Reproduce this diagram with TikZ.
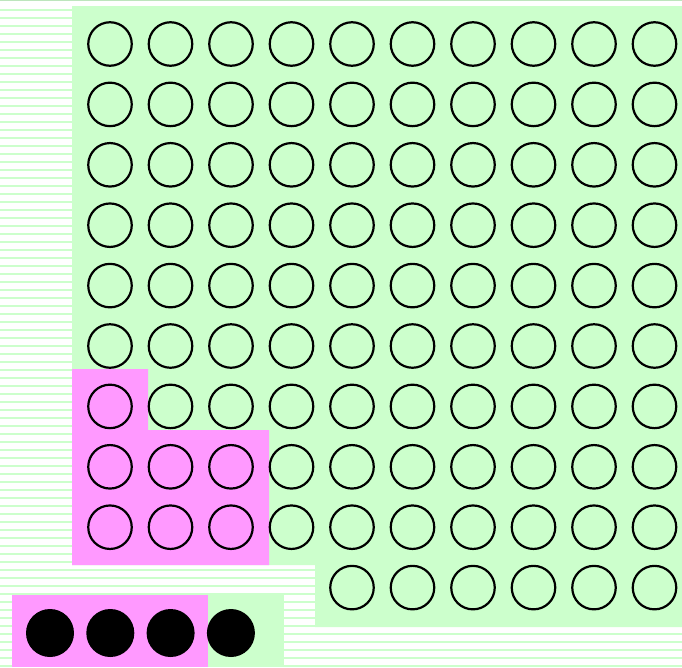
\documentclass[tikz,border=0pt]{standalone}
\definecolor{lgreen}{HTML}{CCFFCC}
\definecolor{lmag}{HTML}{FF99FF}
\tikzset{
  ring/.style={circle, draw=black, line width=2.2pt, minimum size=43.5pt, inner sep=0pt},
  dot/.style={circle, fill=black, minimum size=48pt, inner sep=0pt},
  stripe/.style={fill=lgreen, draw=none}
}
\begin{document}
\begin{tikzpicture}[x=1pt,y=-1pt]
\useasboundingbox (0,0) rectangle (682,667);
\fill[white] (0,0) rectangle (682,667);
\fill[lgreen!80!gray] (0,0) rectangle (682,1.2);
\foreach \k in {1,...,83} {
  \fill[stripe] (0,{8*\k+0.6}) rectangle (682,{8*\k+2.9});
}
% main green field
\fill[lgreen] (72,6) -- (682,6) -- (682,627) -- (315,627) -- (315,565) -- (72,565) -- cycle;
% magenta L
\fill[lmag] (72,369) -- (148,369) -- (148,430) -- (269,430) -- (269,565) -- (72,565) -- cycle;
% bottom bar
\fill[lmag] (12,595) rectangle (208,667);
\fill[lgreen] (208,595) rectangle (284,667);
% grid of rings
\foreach \r in {0,...,8} {
  \foreach \c in {0,...,9} {
    \node[ring] (c-\r-\c) at ({110+60.5*\c},{44+60.4*\r}) {};
  }
}
\foreach \c in {4,...,9} {
  \node[ring] (c-9-\c) at ({110+60.5*\c},{44+60.4*9}) {};
}
% filled dots
\foreach \i in {0,...,3} {
  \node[dot] (d-\i) at ({50+60.3*\i},633) {};
}
\end{tikzpicture}
\end{document}
